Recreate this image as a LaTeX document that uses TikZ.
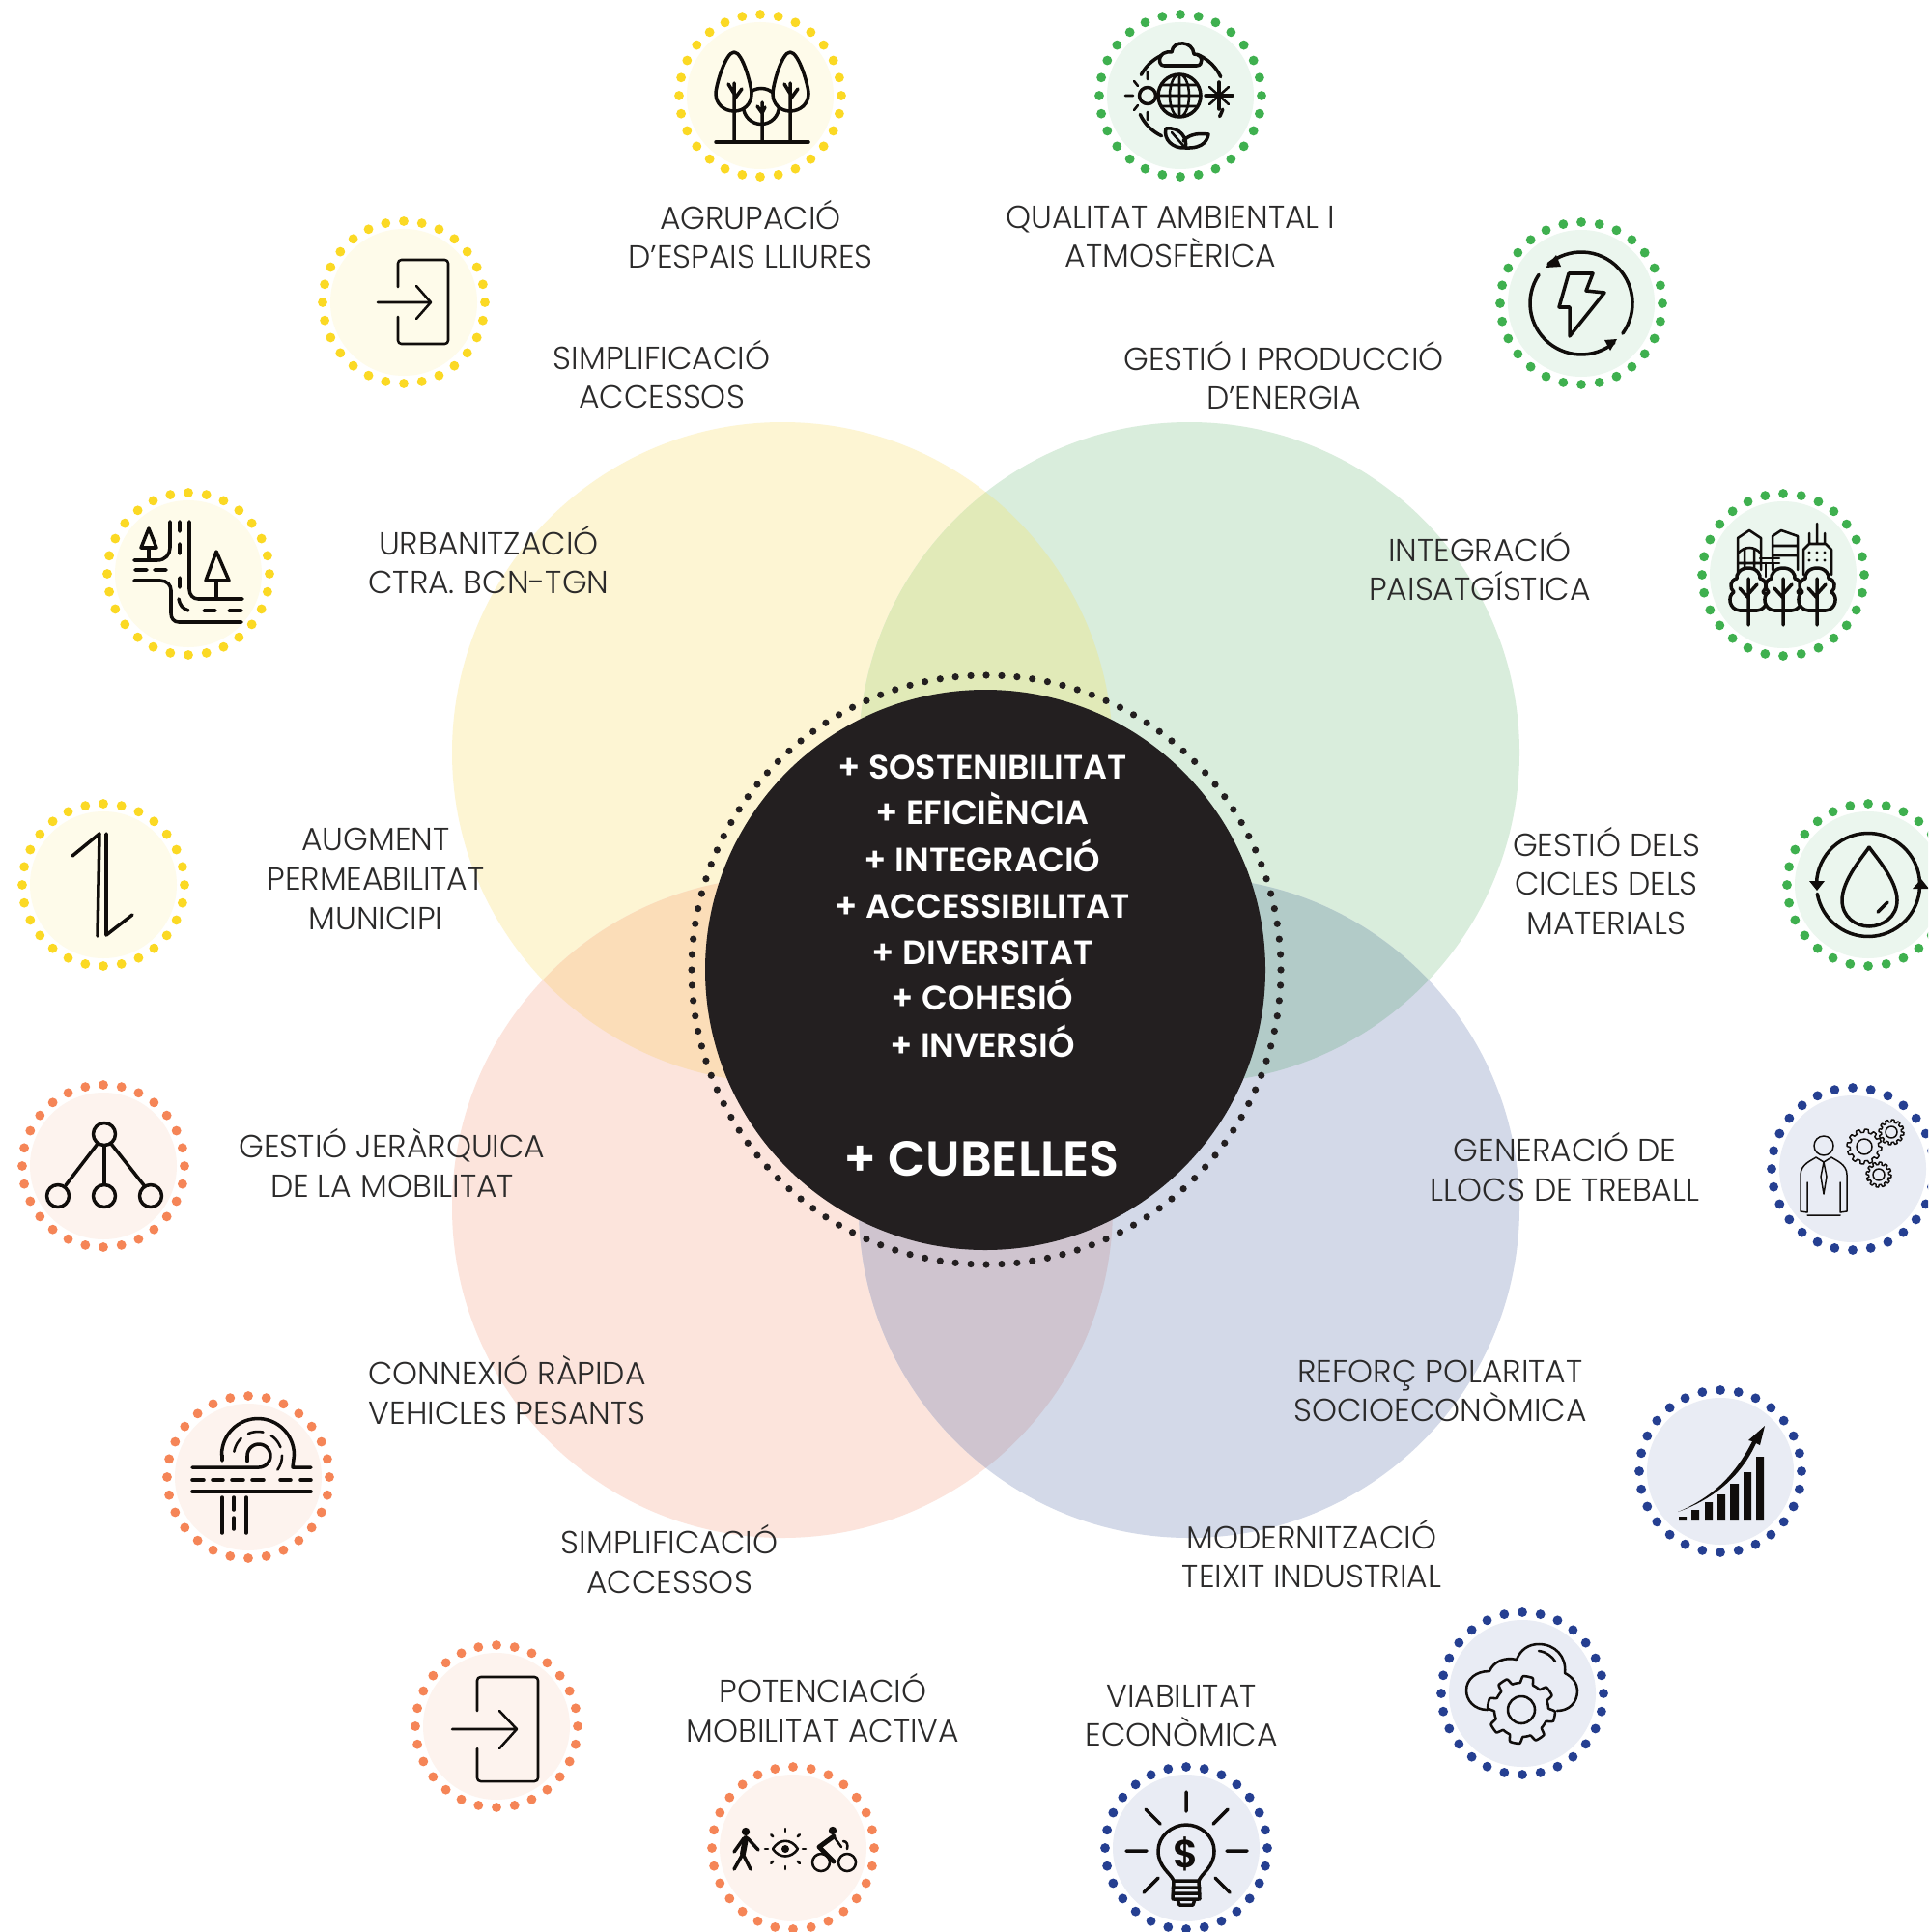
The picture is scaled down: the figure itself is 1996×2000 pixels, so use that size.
\documentclass[tikz,border=0pt]{standalone}
\usepackage{fontspec}
\setmainfont{Poppins}
\newfontfamily\lbl{Poppins Light}
\newfontfamily\hvy{Poppins SemiBold}
\definecolor{yC}{HTML}{FDF5D3}\definecolor{gC}{HTML}{D9EDDC}\definecolor{pC}{HTML}{FCE4DC}\definecolor{bC}{HTML}{D3D9E8}
\definecolor{ygC}{HTML}{E1EAB8}\definecolor{ypC}{HTML}{FBDDB8}\definecolor{gbC}{HTML}{B2CBC8}\definecolor{pbC}{HTML}{CFC4CF}
\definecolor{yBg}{HTML}{FEFBEA}\definecolor{gBg}{HTML}{EBF6EE}\definecolor{pBg}{HTML}{FDF3EE}\definecolor{bBg}{HTML}{E9ECF4}
\definecolor{yDot}{HTML}{FBD924}\definecolor{gDot}{HTML}{3FB04F}\definecolor{pDot}{HTML}{F58557}\definecolor{bDot}{HTML}{253F91}
\definecolor{ink}{HTML}{100D0B}\definecolor{core}{HTML}{231F20}\definecolor{txt}{HTML}{2B2A2A}
\tikzset{
 ic/.style={draw=ink,line width=2pt,line cap=round,line join=round},
 icm/.style={draw=ink,line width=1.45pt,line cap=round,line join=round},
 ict/.style={draw=ink,line width=.85pt,line cap=round,line join=round},
 lab/.style={inner sep=0pt,align=center,text=txt,font=\lbl\fontsize{18.8}{23.2}\selectfont},
 corelab/.style={inner sep=0pt,anchor=base,text=white,font=\hvy\fontsize{19.9}{22}\selectfont},
}
\newcommand\iconat[5]{\begin{scope}[shift={(#1,#2)}]
 \fill[#3] (0,0) circle[radius=76];
 \foreach \i in {0,...,27}{\fill[#4] ({84*cos(\i*360/28)},{84*sin(\i*360/28)}) circle[radius=4.9];}
 #5
\end{scope}}
\newcommand\arcc[5]{plot[domain=#4:#5,samples=32,variable=\t]({#1+#3*cos(\t)},{#2-#3*sin(\t)})}
\newcommand\gearp[5]{plot[domain=0:360,samples=#4*28+1,variable=\t]({#1+(#3*(1-#5)+#3*#5*max(0,min(1,1.5*sin(#4*\t)+.5)))*cos(\t)},{#2+(#3*(1-#5)+#3*#5*max(0,min(1,1.5*sin(#4*\t)+.5)))*sin(\t)})}
\begin{document}
\begin{tikzpicture}[x=0.02cm,y=-0.02cm]
\useasboundingbox (0,0) rectangle (1996,2000);
\clip (0,0) rectangle (1996,2000);
\fill[white] (0,0) rectangle (1996,2000);
% Venn
\def\Y{(810,779) circle[radius=342]}\def\G{(1231,779) circle[radius=342]}
\def\P{(810,1250) circle[radius=342]}\def\B{(1231,1250) circle[radius=342]}
\fill[yC] \Y;\fill[gC] \G;\fill[pC] \P;\fill[bC] \B;
\begin{scope}\clip \Y;\fill[ygC] \G;\fill[ypC] \P;\end{scope}
\begin{scope}\clip \B;\fill[gbC] \G;\fill[pbC] \P;\end{scope}
\fill[core] (1020,1004) circle[radius=290];
\foreach \i in {0,...,119}{\fill[core] ({1021+305*cos(\i*3)},{1004+305*sin(\i*3)}) circle[radius=3.6];}
% Centre text
\node[corelab] (c1) at (1017,806) {+ SOSTENIBILITAT};
\node[corelab] (c2) at (1017,853) {+ EFICIÈNCIA};
\node[corelab] (c3) at (1017,902) {+ INTEGRACIÓ};
\node[corelab] (c4) at (1017,950) {+ ACCESSIBILITAT};
\node[corelab] (c5) at (1017,998) {+ DIVERSITAT};
\node[corelab] (c6) at (1017,1045) {+ COHESIÓ};
\node[corelab] (c7) at (1017,1094) {+ INVERSIÓ};
\node[corelab,font=\hvy\fontsize{29}{30}\selectfont] (c8) at (1016,1217) {+ CUBELLES};
% Labels
\node[lab] (l1) at (777,242.5) {AGRUPACIÓ\\D’ESPAIS LLIURES};
\node[lab] (l2) at (1212,245) {QUALITAT AMBIENTAL I\\ATMOSFÈRICA};
\node[lab] (l3) at (685,387.5) {SIMPLIFICACIÓ\\ACCESSOS};
\node[lab] (l4) at (1329,388.5) {GESTIÓ I PRODUCCIÓ\\D’ENERGIA};
\node[lab] (l5) at (506,579.5) {URBANITZACIÓ\\CTRA. BCN-TGN};
\node[lab] (l6) at (1532,586.5) {INTEGRACIÓ\\PAISATGÍSTICA};
\node[lab] (l7) at (389,910) {AUGMENT\\PERMEABILITAT\\MUNICIPI};
\node[lab] (l8) at (1663,912) {GESTIÓ DELS\\CICLES DELS\\MATERIALS};
\node[lab] (l9) at (406,1204) {GESTIÓ JERÀRQUICA\\DE LA MOBILITAT};
\node[lab] (l10) at (1620,1208) {GENERACIÓ DE\\LLOCS DE TREBALL};
\node[lab] (l11) at (525,1439) {CONNEXIÓ RÀPIDA\\VEHICLES PESANTS};
\node[lab] (l12) at (1491,1440) {REFORÇ POLARITAT\\SOCIOECONÒMICA};
\node[lab] (l13) at (693,1614) {SIMPLIFICACIÓ\\ACCESSOS};
\node[lab] (l14) at (1358,1608.5) {MODERNITZACIÓ\\TEIXIT INDUSTRIAL};
\node[lab] (l15) at (852,1768) {POTENCIACIÓ\\MOBILITAT ACTIVA};
\node[lab] (l16) at (1223,1776) {VIABILITAT\\ECONÒMICA};
% Trees
\iconat{787}{99}{yBg}{yDot}{
 \draw[ic] (1,11) circle[radius=18.5];
 \draw[ic,fill=yBg] (-27,-45) .. controls (-36,-45) and (-46,-10) .. (-46,-2) .. controls (-46,9) and (-37,16) .. (-27,16) .. controls (-17,16) and (-9,9) .. (-9,-2) .. controls (-9,-10) and (-18,-45) .. (-27,-45);
 \draw[ic,fill=yBg] (31,-45) .. controls (22,-45) and (13,-10) .. (13,-2) .. controls (13,9) and (21,16) .. (31,16) .. controls (41,16) and (50,9) .. (50,-2) .. controls (50,-10) and (40,-45) .. (31,-45);
 \draw[ic] (-46,48) -- (50,48);
 \draw[ic] (-27,-13) -- (-27,48) (-27,-2) -- (-33,-12) (-27,4) -- (-19,-7);
 \draw[ic] (31,-13) -- (31,48) (31,-2) -- (25,-12) (31,4) -- (39,-7);
 \draw[ic] (2,7) -- (2,48) (2,18) -- (-3,11) (2,18) -- (5,12);
}
% Globe
\iconat{1222}{99}{gBg}{gDot}{
 \draw[ic] (-1,0) circle[radius=22];
 \draw[icm] (-1,0) ellipse[x radius=10,y radius=22] (-1,-22) -- (-1,22) (-23,0) -- (21,0) (-20,-11) -- (18,-11) (-20,11) -- (18,11);
 \draw[ic,fill=gBg] (-34,0) circle[radius=8.5];
 \draw[icm] (-57,0) -- (-49,0) (-34,-25) -- (-34,-17) (-34,17) -- (-34,25) (-48,-15) -- (-44,-10) (-48,15) -- (-44,10);
 \draw[ic] (26,0) -- (54,0) (40,-14) -- (40,14);
 \draw[icm] (30,-9) -- (50,9) (30,9) -- (50,-9);
 \draw[ic] (-17,-31) -- (17,-31) .. controls (24,-31) and (24,-43) .. (14,-43) .. controls (13,-57) and (-8,-58) .. (-9,-45) .. controls (-24,-47) and (-24,-31) .. (-17,-31);
 \draw[ic] \arcc{0}{0}{46}{25}{68};
 \draw[ic] \arcc{0}{0}{46}{115}{152};
 \draw[ic] \arcc{0}{0}{46}{205}{245};
 \draw[ic] \arcc{0}{0}{46}{-28}{-18};
 \draw[ic] (-15,34) .. controls (-18,45) and (-8,55) .. (5,54) .. controls (8,45) and (0,32) .. (-15,34) (5,54) .. controls (25,55) and (28,45) .. (29,40) .. controls (15,38) and (7,42) .. (3,47);
 \draw[icm] (-9,38) -- (5,54);
}
% Enter yellow
\iconat{418}{313}{yBg}{yDot}{
 \draw[icm,rounded corners=2] (-6,-16) -- (-6,-44) -- (46,-44) -- (46,43) -- (-6,43) -- (-6,15);
 \draw[icm] (-27,0) -- (28,0) (13,-17) -- (28,0) -- (13,17);
}
% Energy
\iconat{1637}{314}{gBg}{gDot}{
 \draw[ic] \arcc{0}{0}{53}{-36}{130};
 \draw[ic] \arcc{0}{0}{53}{146}{310};
 \fill[ink] (-37,-37) -- (-26,-50) -- (-21,-38) -- cycle;
 \fill[ink] (37,37) -- (24,38) -- (30,49) -- cycle;
 \draw[ic] (-13,-31) -- (12,-31) -- (5,-13) -- (24,-11) -- (-12,34) -- (-12,4) -- (-23,4) -- cycle;
}
% Road
\iconat{195}{594}{yBg}{yDot}{
 \draw[ic] (-56,-14) -- (-32,-14) .. controls (-24,-14) and (-19,-20) .. (-19,-27) -- (-19,-54);
 \draw[ic] (1,-54) -- (1,16) .. controls (1,22) and (5,26) .. (10,26) -- (56,26);
 \draw[ic] (-56,7) -- (-29,7) .. controls (-22,7) and (-18,12) .. (-18,17) -- (-18,41) .. controls (-18,46) and (-15,50) .. (-10,50) -- (55,50);
 \draw[ic] (-9,-54) -- (-9,-44) (-9,-31) -- (-9,-21) (-9,4) -- (-9,14) (-10,26) .. controls (-9,32) and (-6,36) .. (0,38) (16,38) -- (28,38) (42,38) -- (55,38) (-55,-4) -- (-43,-4) (-35,-4) -- (-23,-4);
 \draw[ic] (-41,-47) -- (-33,-27) -- (-49,-27) -- cycle (-41,-27) -- (-41,-14);
 \draw[ic] (29,-23) -- (42,7) -- (18,7) -- cycle (29,7) -- (29,26);
}
% City
\iconat{1846}{595}{gBg}{gDot}{
 \draw[icm] (-47,0) -- (-47,-38) -- (-35,-46) -- (-23,-38) -- (-23,-5);
 \draw[icm] (-47,-22) .. controls (-40,-30) and (-30,-30) .. (-23,-22) (-47,-12) -- (-23,-12) (-40,-27) -- (-40,0) (-30,-27) -- (-30,0);
 \draw[icm] (-11,-5) -- (-11,-40) -- (-2,-46) -- (15,-40) -- (15,-5) (-11,-30) -- (15,-30) (-11,-20) -- (15,-20);
 \draw[icm] (-24,-17) -- (-4,-17) (-24,-12) -- (-4,-12) (-18,-12) -- (-18,2) (-10,-12) -- (-10,2);
 \draw[icm] (21,0) -- (21,-26) -- (27,-32) -- (44,-32) -- (50,-26) -- (50,0) (35,-53) -- (35,-32) (27,-43) -- (27,-32) (43,-43) -- (43,-32);
 \foreach \dx in {27,35,43}{\foreach \dy in {-23,-15}{\fill[ink] (\dx,\dy) circle[radius=1.6];}}
 \foreach \tx in {-36,0,35}{
  \draw[ic,fill=gBg] (\tx,-7) .. controls (\tx+9,-7) and (\tx+13,0) .. (\tx+12,4) .. controls (\tx+19,5) and (\tx+20,14) .. (\tx+15,18) .. controls (\tx+22,22) and (\tx+20,36) .. (\tx+9,37) -- (\tx-9,37) .. controls (\tx-20,36) and (\tx-22,22) .. (\tx-15,18) .. controls (\tx-20,14) and (\tx-19,5) .. (\tx-12,4) .. controls (\tx-13,0) and (\tx-9,-7) .. (\tx,-7);
  \draw[ic] (\tx,4) -- (\tx,52) (\tx,24) -- (\tx-9,14) (\tx,20) -- (\tx+9,10);
 }
}
% Up-down arrows
\iconat{107}{916}{yBg}{yDot}{
 \draw[ic] (-32,-30) -- (-4,-53) -- (-6,53);
 \draw[ic] (3,-53) -- (3,52) -- (30,31);
}
% Drop
\iconat{1934}{916}{gBg}{gDot}{
 \draw[ic] \arcc{0}{0}{53.5}{2}{178};
 \draw[ic] \arcc{0}{0}{53.5}{190}{358};
 \fill[ink] (-61,-4) -- (-45,-4) -- (-53,6) -- cycle;
 \fill[ink] (55,-6) -- (46,4) -- (63,4) -- cycle;
 \draw[ic] (1,-39) .. controls (-5,-30) and (-27,-5) .. (-27,16) .. controls (-27,33) and (-13,43) .. (1,43) .. controls (15,43) and (30,33) .. (30,16) .. controls (30,-5) and (7,-30) .. (1,-39);
 \draw[ic] (10,28) -- (20,18);
}
% Hierarchy
\iconat{107}{1207}{pBg}{pDot}{
 \draw[ic] (1,-33) circle[radius=11.5] (-47,31) circle[radius=11.5] (1,31) circle[radius=11.5] (49,31) circle[radius=11.5];
 \draw[ic] (1,-21) -- (1,19) (-6,-23) -- (-39,20) (8,-23) -- (42,20);
}
% Person + gears
\iconat{1918}{1210}{bBg}{bDot}{
 \draw[ict] (-30,-24) circle[radius=10];
 \draw[ict] (-54,44) -- (-54,6) .. controls (-54,-5) and (-42,-9) .. (-38,-12) -- (-30,-7) -- (-22,-12) .. controls (-18,-9) and (-6,-5) .. (-6,6) -- (-6,44) -- (-13,45) -- (-13,14) (-13,48) -- (-47,48) (-47,14) -- (-47,45) -- (-54,44);
 \draw[ict] (-30,-7) -- (-33,8) -- (-30,26) -- (-27,8) -- cycle;
 \draw[ict] \gearp{12}{-23}{18}{12}{.18} -- cycle;
 \draw[ict] (12,-23) circle[radius=8];
 \draw[ict] \gearp{40}{-38}{13}{12}{.2} -- cycle;
 \draw[ict] (40,-38) circle[radius=6];
 \draw[ict] \gearp{27}{6}{13}{12}{.2} -- cycle;
 \draw[ict] (27,6) circle[radius=6];
}
% Overpass
\iconat{257}{1529}{pBg}{pDot}{
 \draw[ic] (-27,-17) -- (-27,-23) -- plot[domain=180:0,samples=30,variable=\t]({10+37.5*cos(\t)},{-23-37.5*sin(\t)}) -- (46,-10) -- (65,-10);
 \draw[ic] (-58,-10) -- (11,-10) -- plot[domain=-90:180,samples=30,variable=\t]({11+12*cos(\t)},{-22-12*sin(\t)}) -- (-1,-16);
 \draw[icm,dash pattern=on 9pt off 5pt] \arcc{10}{-22}{25}{170}{-48};
 \draw[ic] (-58,3) -- (-46,3) (-37,3) -- (-26,3) (-17,3) -- (-5,3) (4,3) -- (16,3) (33,3) -- (44,3) (54,3) -- (65,3);
 \draw[ic] (-58,15) -- (65,15);
 \draw[ic] (-27,21) -- (-27,58) (-2,21) -- (-2,58) (-15,21) -- (-15,34) (-15,42) -- (-15,54);
}
% Chart
\iconat{1781}{1523}{bBg}{bDot}{
 \fill[ink] (-43,47) rectangle (-35,51) (-30,40) rectangle (-22,51) (-16,32) rectangle (-8,51) (-3,24) rectangle (5,51) (10,13) rectangle (19,51) (24,1) rectangle (32,51) (37,-15) rectangle (45,51);
 \fill[ink] (-44,42) .. controls (-10,28) and (15,5) .. (33,-31) -- (29,-32) -- (46,-47) -- (41,-27) -- (37,-29) .. controls (20,8) and (-10,30) .. (-44,42) -- cycle;
}
% Cloud gear
\iconat{1576}{1753}{bBg}{bDot}{
 \draw[icm] (-36,17) .. controls (-50,17) and (-58,7) .. (-58,-3) .. controls (-58,-15) and (-48,-23) .. (-34,-23) .. controls (-30,-33) and (-18,-38) .. (-6,-35) .. controls (-2,-45) and (6,-51) .. (17,-51) .. controls (34,-51) and (46,-38) .. (44,-21) .. controls (52,-17) and (57,-10) .. (57,-3) .. controls (57,10) and (48,18) .. (36,18);
 \draw[icm] (17,-44) .. controls (25,-43) and (31,-38) .. (34,-33);
 \draw[icm] \gearp{-1}{17}{35}{8}{.2} -- cycle;
 \draw[icm] (-1,17) circle[radius=14];
}
% Enter orange
\iconat{514}{1787}{pBg}{pDot}{
 \draw[icm,rounded corners=2] (-20,-16) -- (-20,-51) -- (43,-51) -- (43,57) -- (-20,57) -- (-20,23);
 \draw[icm] (-46,3) -- (21,3) (3,-16) -- (21,3) -- (3,23);
}
% Walk / eye / bike
\iconat{821}{1913}{pBg}{pDot}{
 \fill[ink] (-49,-17) circle[radius=4.2];
 \draw[ink,line width=3.4pt,line cap=round,line join=round] (-49,-10) -- (-52,6);
 \draw[ic] (-52,6) -- (-61,22) (-52,6) -- (-44,22) (-51,-10) -- (-61,4) (-47,-10) -- (-36,2);
 \draw[icm] (-21,1) .. controls (-14,-10) and (-2,-10) .. (5,1) .. controls (-2,11) and (-14,11) .. (-21,1);
 \fill[ink] (-8,1) circle[radius=4];
 \foreach \a in {0,45,...,315}{\draw[icm] ({-8+18*cos(\a)},{1+18*sin(\a)}) -- ({-8+21*cos(\a)},{1+21*sin(\a)});}
 \fill[ink] (41,-18) circle[radius=4.2];
 \draw[icm] (29,15) circle[radius=9] (56,15) circle[radius=9];
 \draw[ink,line width=2.8pt,line cap=round,line join=round] (42,-12) -- (27,-1) -- (42,14);
 \draw[icm] (42,-12) -- (50,-1) (52,-7) .. controls (56,-7) and (57,-3) .. (56,1);
}
% Bulb
\iconat{1228}{1913}{bBg}{bDot}{
 \draw[ic] (0,-58) -- (0,-38) (-42,-40) -- (-27,-25) (43,-40) -- (28,-25) (-62,3) -- (-41,3) (42,3) -- (63,3) (-29,31) -- (-44,46) (30,31) -- (45,46);
 \draw[ic] (-13,34) .. controls (-16,26) and (-29,20) .. (-29,3) .. controls (-29,-12) and (-15,-24) .. (0,-24) .. controls (15,-24) and (29,-12) .. (29,3) .. controls (29,20) and (16,26) .. (13,34) -- cycle;
 \draw[ic] (-14,41) -- (14,41) (-14,47) -- (14,47) (-13,53) -- (13,53) (-13,34) -- (-14,53) (13,34) -- (14,53) (-9,53) -- (-7,59) -- (7,59) -- (9,53);
 \node[inner sep=0pt,text=ink,font=\hvy\fontsize{23}{24}\selectfont] (dollar) at (0,6) {\$};
}
\end{tikzpicture}
\end{document}
